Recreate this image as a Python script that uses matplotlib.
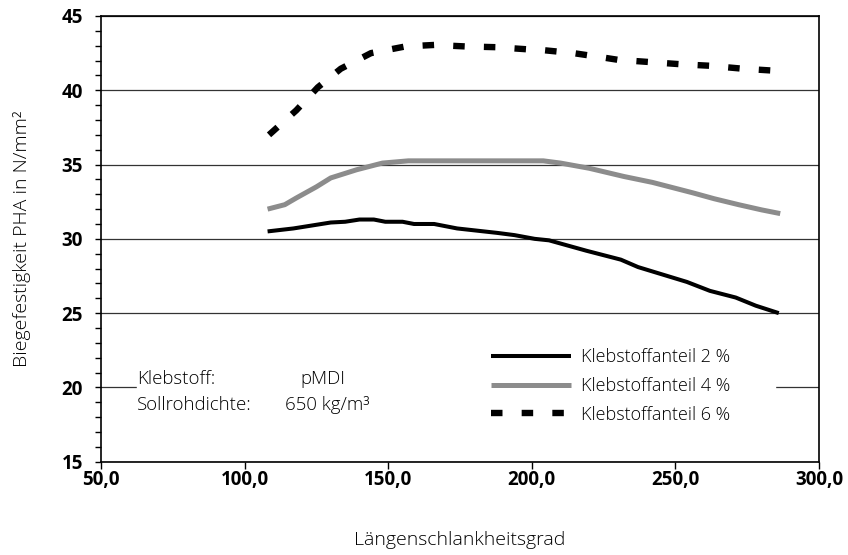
import numpy as np
import matplotlib; matplotlib.use('Agg')
import matplotlib.pyplot as plt
from matplotlib.ticker import MultipleLocator, FuncFormatter

plt.rcParams.update({'font.family': ['Open Sans', 'DejaVu Sans'], 'font.size': 11})

# Klebstoffanteil 2 %
x_2 = [108, 117, 130, 135, 140, 145, 149, 155, 159, 166, 174, 188, 194, 201, 206,
       219, 231, 237, 254, 262, 271, 278, 286]
y_2 = [30.5, 30.7, 31.1, 31.15, 31.3, 31.3, 31.15, 31.15, 31.0, 31.0, 30.7, 30.4, 30.25,
       30.0, 29.9, 29.2, 28.6, 28.1, 27.1, 26.5, 26.05, 25.5, 25.0]
# Klebstoffanteil 4 %
x_4 = [108, 114, 118, 125, 130, 139, 148, 157, 176, 204, 210, 220, 232, 242, 256, 263.5,
       272, 280, 286.5]
y_4 = [32.0, 32.3, 32.75, 33.5, 34.1, 34.65, 35.1, 35.25, 35.25, 35.25, 35.1, 34.75,
       34.2, 33.8, 33.1, 32.7, 32.3, 31.95, 31.7]
# Klebstoffanteil 6 %
x_6 = [108.5, 118, 125.5, 133.5, 144, 156, 166, 177, 187.5, 199, 204, 214.5, 225, 230,
       241, 252, 262, 273.5, 286]
y_6 = [37.0, 38.65, 40.2, 41.45, 42.5, 42.95, 43.05, 42.95, 42.9, 42.75, 42.7, 42.5, 42.2,
       42.05, 41.9, 41.75, 41.65, 41.45, 41.3]

series_labels = ['Klebstoffanteil 2 %', 'Klebstoffanteil 4 %', 'Klebstoffanteil 6 %']

fig = plt.figure(figsize=(8.48, 5.55), dpi=100)
ax = fig.add_axes([0.1191, 0.1681, 0.8467, 0.8031])

ax.plot(x_2, y_2, color='black', lw=2.9, solid_capstyle='butt', label=series_labels[0], zorder=4)
ax.plot(x_4, y_4, color='#8c8c8c', lw=3.6, solid_capstyle='butt', label=series_labels[1], zorder=4)
ax.plot(x_6, y_6, color='black', lw=4.6, dashes=(1.8, 3.0), label=series_labels[2], zorder=4)

ax.set_xlim(50, 300); ax.set_ylim(15, 45)
ax.xaxis.set_major_locator(MultipleLocator(50))
ax.xaxis.set_major_formatter(FuncFormatter(lambda v, p: f'{v:.1f}'.replace('.', ',')))
ax.yaxis.set_major_locator(MultipleLocator(5))
ax.yaxis.set_minor_locator(MultipleLocator(1))
ax.tick_params(axis='x', which='major', direction='out', length=5, width=1, pad=1, labelsize=13.5)
ax.tick_params(axis='y', which='both', direction='out', length=4, width=1, pad=9, labelsize=13.5)
for lab in ax.get_xticklabels() + ax.get_yticklabels():
    lab.set_fontweight('bold')
for s in ax.spines.values():
    s.set_linewidth(1.2)

ax.yaxis.grid(True, which='major', color='#333333', lw=0.9)
ax.set_axisbelow(True)

ax.set_ylabel('Biegefestigkeit PHA in N/mm²', fontsize=14, fontweight='light', va='center')
ax.yaxis.set_label_coords(-0.110, 0.5)
ax.set_xlabel('Längenschlankheitsgrad', fontsize=14, fontweight='light', va='center')
ax.xaxis.set_label_coords(0.5, -0.176)

# white band hiding the 20 grid line behind notes and legend
ax.axhspan(18.2, 21.6, xmin=(62.5 - 50) / 250, xmax=(284.6 - 50) / 250, color='white', zorder=2)
ax.text(62.5, 20.55, 'Klebstoff:', fontsize=13.4, va='center', zorder=3, fontweight='light')
ax.text(119.5, 20.55, 'pMDI', fontsize=13.4, va='center', zorder=3, fontweight='light')
ax.text(62.5, 18.8, 'Sollrohdichte:', fontsize=13.4, va='center', zorder=3, fontweight='light')
ax.text(114, 18.8, '650 kg/m³', fontsize=13.4, va='center', zorder=3, fontweight='light')

leg = ax.legend(loc='center left', bbox_to_anchor=(0.516, 0.17), frameon=False, fontsize=13,
                handlelength=4.4, handletextpad=0.55, labelspacing=0.6, borderpad=0.6)
for t in leg.get_texts():
    t.set_fontweight('light')

fig.savefig('out.png', dpi=100)
